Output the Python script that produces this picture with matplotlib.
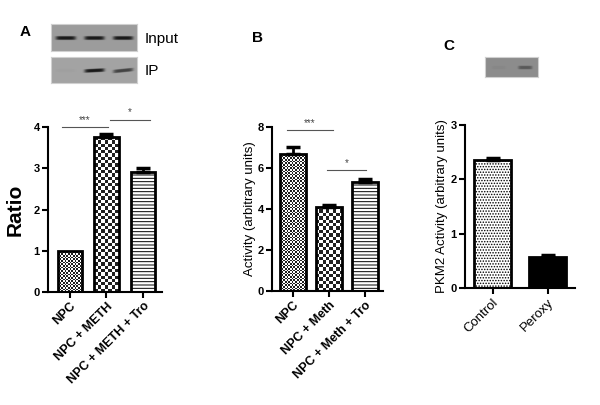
import numpy as np
import matplotlib
matplotlib.use('Agg')
import matplotlib.pyplot as plt

plt.rcParams['font.family'] = ['Liberation Sans', 'DejaVu Sans']
plt.rcParams['hatch.linewidth'] = 0.7

# panel A: ratio
a_labels = ['NPC', 'NPC + METH', 'NPC + METH + Tro']
a_vals = [1.0, 3.75, 2.9]
a_err = [0.0, 0.07, 0.1]

# panel B: activity
b_labels = ['NPC', 'NPC + Meth', 'NPC + Meth + Tro']
b_vals = [6.68, 4.1, 5.32]
b_err = [0.35, 0.1, 0.12]

# panel C: PKM2 activity
c_labels = ['Control', 'Peroxy']
c_vals = [2.35, 0.57]
c_err = [0.05, 0.03]

# blot band strengths (0 = none, 1 = dark)
blot_input = [1.0, 1.0, 1.0]
blot_ip = [0.03, 1.0, 0.7]
blot_c = [0.05, 0.45]

W, H = 600, 405
fig = plt.figure(figsize=(6, 4.05), dpi=100)


def box(x0, y0, x1, y1):
    # pixel box (top-left origin) -> figure fraction rect
    return [x0 / W, (H - y1) / H, (x1 - x0) / W, (y1 - y0) / H]


def style(ax, ymax, step):
    for s in ['top', 'right']:
        ax.spines[s].set_visible(False)
    for s in ['left', 'bottom']:
        ax.spines[s].set_linewidth(1.5)
    ax.set_ylim(0, ymax)
    ax.set_yticks(np.arange(0, ymax + 0.01, step))
    ax.tick_params(width=1.5, length=4, labelsize=8, pad=2)
    for lab in ax.get_yticklabels():
        lab.set_fontweight('bold')


def checker(ax, bar, cell):
    x0, y0 = bar.get_x(), bar.get_y()
    w, h = bar.get_width(), bar.get_height()
    p0 = ax.transData.transform((x0, y0))
    p1 = ax.transData.transform((x0 + w, y0 + h))
    nx = max(1, int(round((p1[0] - p0[0]) / cell)))
    ny = max(1, int(round((p1[1] - p0[1]) / cell)))
    img = np.indices((ny, nx)).sum(axis=0) % 2
    im = ax.imshow(img, cmap='gray', vmin=-0.15, vmax=1,
                   extent=(x0, x0 + w, y0, y0 + h),
                   aspect='auto', interpolation='nearest', origin='lower',
                   zorder=1.5)
    im.set_clip_path(bar)


def bars(ax, vals, err, width, hatches, labels, xlim):
    x = np.arange(len(vals))
    ax.set_xlim(*xlim)
    rects = ax.bar(x, vals, width, color='white', edgecolor='black',
                   linewidth=2, zorder=2)
    for r, hz in zip(rects, hatches):
        if hz.startswith('checker'):
            r.set_facecolor('none')
        elif hz == 'solid':
            r.set_facecolor('black')
        else:
            r.set_hatch(hz)
    e = np.array(err)
    keep = e > 0
    ax.errorbar(x[keep], np.array(vals)[keep],
                yerr=[np.zeros(keep.sum()), e[keep]], fmt='none',
                ecolor='black', elinewidth=2, capsize=5, capthick=2.5, zorder=3)
    ax.set_xticks(x)
    ax.set_xticklabels(labels, rotation=45, ha='right', va='top',
                       rotation_mode='anchor', fontweight='bold', fontsize=9)
    for r, hz in zip(rects, hatches):
        if hz == 'checker':
            checker(ax, r, 3.3)
        elif hz == 'checker_fine':
            checker(ax, r, 1.65)
    ax.set_xlim(*xlim)
    return rects


def sig(ax, x0, x1, y, txt, ty):
    ax.plot([x0, x1], [y, y], color='#555555', lw=0.8, clip_on=False)
    ax.text((x0 + x1) / 2, ty, txt, ha='center', va='bottom', fontsize=7,
            color='#444444', clip_on=False)


def blot(ax, bands, bg, shape, lane_w, band_h, tilt=0.0):
    h, w = shape
    yy, xx = np.mgrid[0:h, 0:w]
    img = np.full(shape, bg, dtype=float)
    n = len(bands)
    for i, s in enumerate(bands):
        cx = (i + 0.5) * w / n
        px = np.exp(-((xx - cx) / lane_w) ** 6)
        cy = h / 2 - tilt * i * (xx - cx) / lane_w
        py = np.exp(-((yy - cy) / band_h) ** 4)
        img -= s * (bg - 0.1) * px * py
    ax.imshow(img, cmap='gray', vmin=0, vmax=1, aspect='auto',
              interpolation='bilinear')
    ax.set_xticks([])
    ax.set_yticks([])
    for s in ax.spines.values():
        s.set_color('#d0d0d0')
        s.set_linewidth(0.8)


# ---- panel A ----
axA = fig.add_axes(box(48, 127, 162, 292))
style(axA, 4, 1)
bars(axA, a_vals, a_err, 0.66, ['checker_fine', 'checker', '-----'],
     a_labels, (-0.6, 2.52))
axA.set_ylim(0, 4)
axA.set_ylabel('Ratio', fontsize=15, fontweight='bold', labelpad=6)
sig(axA, -0.22, 1.04, 4.0, '***', 4.04)
sig(axA, 1.1, 2.19, 4.17, '*', 4.24)

b1 = fig.add_axes(box(51, 24, 137, 51))
blot(b1, blot_input, 0.61, (27, 86), 10, 1.9)
b2 = fig.add_axes(box(51, 57, 137, 83))
blot(b2, blot_ip, 0.64, (26, 86), 10, 1.8, tilt=0.5)
fig.text(145 / W, 1 - 39 / H, 'Input', fontsize=11, va='center')
fig.text(145 / W, 1 - 71 / H, 'IP', fontsize=11, va='center')
fig.text(20 / W, 1 - 32 / H, 'A', fontsize=11, fontweight='bold', va='center')

# ---- panel B ----
axB = fig.add_axes(box(272, 127, 383, 291))
style(axB, 8, 2)
bars(axB, b_vals, b_err, 0.72, ['checker_fine', 'checker', '-----'],
     b_labels, (-0.58, 2.49))
axB.set_ylim(0, 8)
axB.set_ylabel('Activity (arbitrary units)', fontsize=9.5, labelpad=1)
sig(axB, -0.17, 1.11, 7.85, '***', 7.95)
sig(axB, 0.94, 2.01, 5.9, '*', 6.0)
fig.text(252 / W, 1 - 38 / H, 'B', fontsize=11, fontweight='bold', va='center')

# ---- panel C ----
axC = fig.add_axes(box(465, 125, 575, 288))
style(axC, 3, 1)
bars(axC, c_vals, c_err, 0.68, ['......', 'solid'], c_labels, (-0.5, 1.5))
for lab in axC.get_xticklabels():
    lab.set_fontweight('normal')
    lab.set_fontsize(9.5)
axC.set_ylabel('PKM2 Activity (arbitrary units)', fontsize=9.5, labelpad=2)
b3 = fig.add_axes(box(485, 57, 538, 77))
blot(b3, blot_c, 0.55, (20, 53), 7, 1.8)
fig.text(443 / W, 1 - 46 / H, 'C', fontsize=11, fontweight='bold', va='center')

fig.savefig('out.png', dpi=100)
